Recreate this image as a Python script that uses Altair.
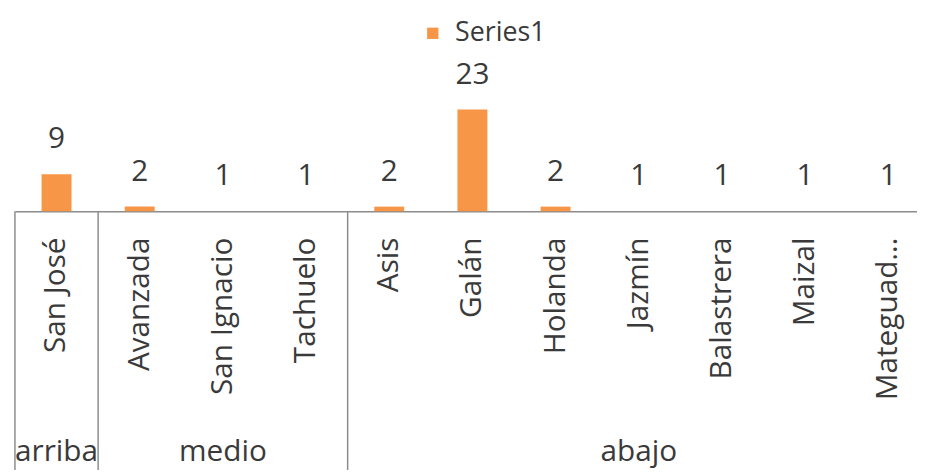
import altair as alt
import pandas as pd

categories = ["San José", "Avanzada", "San Ignacio", "Tachuelo", "Asis", "Galán",
              "Holanda", "Jazmín", "Balastrera", "Maizal", "Mateguad…"]
values = [9, 2, 1, 1, 2, 23, 2, 1, 1, 1, 1]
groups = ["arriba", "medio", "medio", "medio", "abajo", "abajo",
          "abajo", "abajo", "abajo", "abajo", "abajo"]
series_name = "Series1"

df = pd.DataFrame({"cat": categories, "val": values, "grp": groups, "series": series_name})

# group boundaries (first category of each group) and group middle category
group_order = []
for g in groups:
    if g not in group_order:
        group_order.append(g)
starts, mids = [], []
for g in group_order:
    idx = [i for i, gg in enumerate(groups) if gg == g]
    starts.append(categories[idx[0]])
    mids.append(categories[(idx[0] + idx[-1]) // 2])
sep_df = pd.DataFrame({"cat": starts})
grp_df = pd.DataFrame({"cat": mids, "grp": group_order})

FONT = "Open Sans"
TXT = "#3a3a3a"
LINE = "#8c8c8c"
H = 112

xscale = alt.Scale(domain=categories, paddingInner=0, paddingOuter=0)
yscale = alt.Scale(domain=[1, 25], zero=False, nice=False, clamp=True)

xaxis = alt.Axis(labelAngle=-90, labelAlign="right", labelBaseline="middle",
                 labelPadding=26, ticks=False, labelFontSize=30, labelFont=FONT,
                 labelColor=TXT, domainColor=LINE, domainWidth=1.5, grid=False,
                 labelOverlap=False, labelLimit=0, labelBound=False, labelFlush=False)

bars = alt.Chart(df).mark_bar(width=alt.RelativeBandSize(0.36), color="#F79646").encode(
    x=alt.X("cat:N", sort=categories, scale=xscale, title=None, axis=xaxis),
    y=alt.Y("val:Q", scale=yscale, axis=None),
    color=alt.Color("series:N", scale=alt.Scale(domain=[series_name], range=["#F79646"]),
                    legend=alt.Legend(title=None, orient="none", legendX=408, legendY=-81,
                                      symbolType="square", symbolSize=130, symbolStrokeWidth=0,
                                      labelFontSize=27, labelFont=FONT, labelColor=TXT,
                                      labelOffset=9)),
)

labels = alt.Chart(df).mark_text(fontSize=30, font=FONT, color=TXT, baseline="alphabetic",
                                 dy=-26).encode(
    x=alt.X("cat:N", sort=categories, scale=xscale, title=None, axis=xaxis),
    y=alt.Y("val:Q", scale=yscale, axis=None),
    text="val:Q",
)

seps = alt.Chart(sep_df).mark_rule(color=LINE, strokeWidth=1.5).encode(
    x=alt.X("cat:N", sort=categories, scale=xscale, title=None, axis=xaxis, bandPosition=0),
    y=alt.value(H),
    y2=alt.value(H + 300),
)

grp_text = alt.Chart(grp_df).mark_text(fontSize=30, font=FONT, color=TXT,
                                       baseline="alphabetic").encode(
    x=alt.X("cat:N", sort=categories, scale=xscale, title=None, axis=xaxis),
    y=alt.value(H + 252),
    text="grp:N",
)

chart = alt.layer(bars, labels, seps, grp_text).properties(
    width=923, height=H,
    autosize=alt.AutoSizeParams(type="none"),
    padding={"top": 91, "left": 7, "right": -13, "bottom": 259},
).configure_view(stroke=None)

chart.save("out.html", embed_options={"renderer": "svg", "actions": False})
